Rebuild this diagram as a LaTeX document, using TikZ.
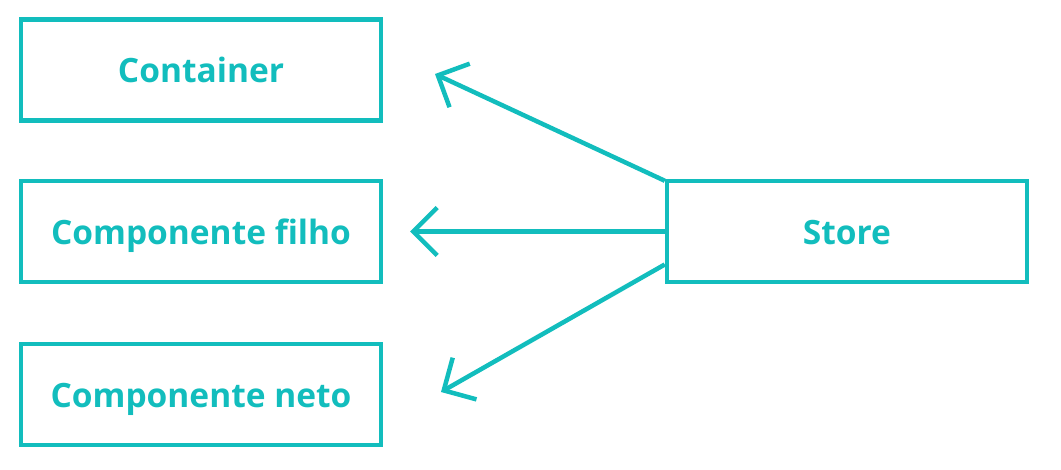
\documentclass[tikz,border=0pt]{standalone}
\usepackage{fontspec}
\setmainfont{Open Sans}
\usetikzlibrary{arrows.meta}
\definecolor{teal}{HTML}{12BDBD}
\begin{document}
\begin{tikzpicture}[x=1pt,y=-1pt,
  box/.style={draw=teal,line width=4.5pt,minimum width=360pt,minimum height=101pt,inner sep=0pt,
    text height=34pt,text depth=8pt,
    text=teal,font=\fontsize{33.5}{40}\selectfont\bfseries},
  conn/.style={draw=teal,line width=4.5pt,-{Straight Barb[length=24pt,width=48pt]}}]
\useasboundingbox (0,0) rectangle (1061,470);
\node[box] (container) at (201,70) {Container};
\node[box] (filho) at (201,231.5) {Componente filho};
\node[box] (neto) at (201,394.5) {Componente neto};
\node[box] (store) at (847,231.5) {Store};
\coordinate (t1) at (435,74);
\coordinate (t2) at (410,231.5);
\coordinate (t3) at (441,392);
\draw[conn] (store.north west) ++(0,2) -- (t1);
\draw[conn] (store.west) -- (t2);
\draw[conn] (store.west) ++(0,33) -- (t3);
\end{tikzpicture}
\end{document}
